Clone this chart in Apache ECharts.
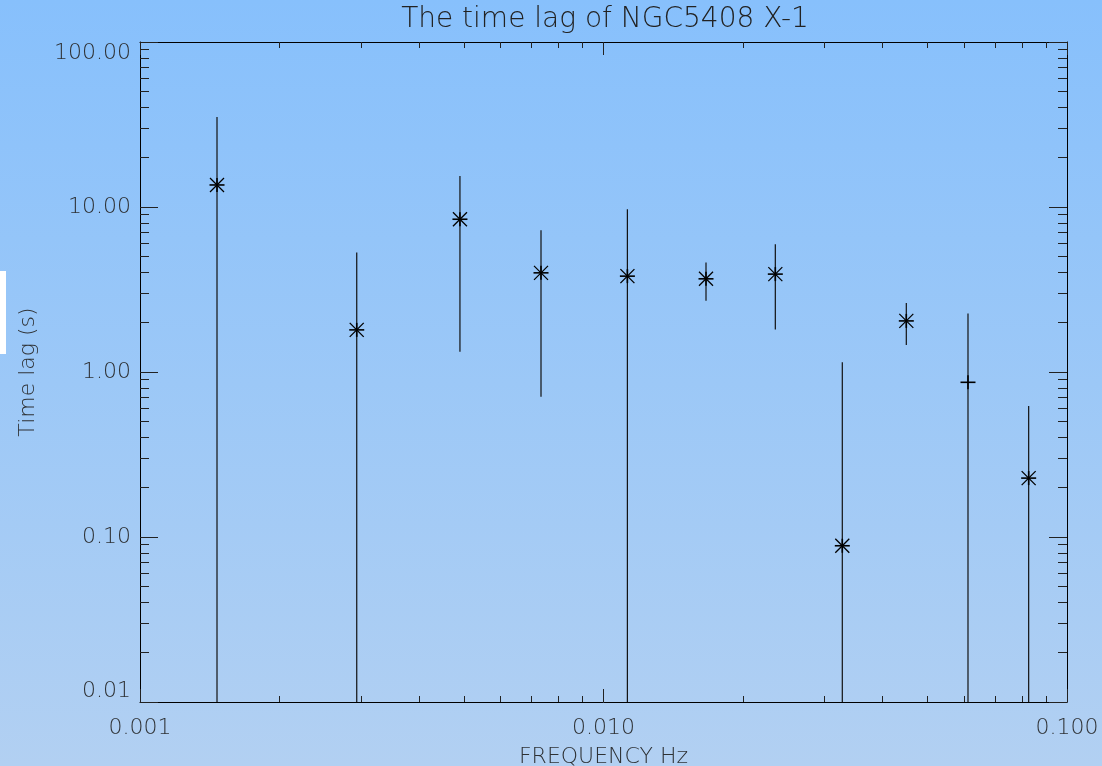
<!DOCTYPE html>
<html>
<head>
<meta charset="utf-8">
<script src="https://cdn.jsdelivr.net/npm/echarts@6/dist/echarts.min.js"></script>
<style>
html,body{margin:0;padding:0;overflow:hidden;}
#chart{width:1102px;height:766px;background:linear-gradient(to bottom,#87c0fc 0%,#9cc8f7 50%,#b2d0f2 100%);}
</style>
</head>
<body>
<div id="chart"></div>
<script>
// ---- data ----
var frequency = [0.001466, 0.002935, 0.004901, 0.007331, 0.01126, 0.01664, 0.02348, 0.03275, 0.04501, 0.06115, 0.08266];
var timeLag   = [13.6, 1.80, 8.43, 3.99, 3.81, 3.67, 3.92, 0.0885, 2.04, 0.866, 0.2275];
var errHigh   = [35.1, 5.30, 15.4, 7.23, 9.69, 4.61, 5.95, 1.145, 2.62, 2.26, 0.623];
// null = lower error extends below the plotted range
var errLow    = [null, null, 1.327, 0.709, null, 2.70, 1.81, null, 1.457, null, null];
var markers   = ['star','star','star','star','star','star','star','star','star','plus','star'];

var xMajorTicks = [0.001, 0.01, 0.1];
var xMinorTicks = [0.002,0.003,0.004,0.005,0.006,0.007,0.008,0.009,0.02,0.03,0.04,0.05,0.06,0.07,0.08,0.09];
var yMajorTicks = [0.01, 0.1, 1, 10, 100];
var yMinorTicks = [0.02,0.03,0.04,0.05,0.06,0.07,0.08,0.09,0.2,0.3,0.4,0.5,0.6,0.7,0.8,0.9,2,3,4,5,6,7,8,9,20,30,40,50,60,70,80,90];

var X_MIN = 0.001, X_MAX = 0.1, Y_MIN = 0.01, Y_MAX = 100;
var FONT = "'DejaVu Sans', sans-serif";
var TXT = '#2e3134';

var points = frequency.map(function(f,i){ return [f, timeLag[i], errLow[i] == null ? Y_MIN : errLow[i], errHigh[i], i]; });

function xAxisDef(pos, major, showLabel, showLine) {
  return {
    type:'log', logBase:10, min:X_MIN, max:X_MAX, position:pos, gridIndex:0,
    axisLine:{show:showLine, onZero:false, lineStyle:{color:'#000', width:1}},
    axisTick:{show:true, inside:true, length: major?13:6, customValues: major?xMajorTicks:xMinorTicks, lineStyle:{color:'#222', width:1}},
    axisLabel:{show:showLabel, customValues:xMajorTicks, margin:15, color:TXT, fontFamily:FONT, fontWeight:200, fontSize:22,
      formatter:function(v){ return (+v).toFixed(3); }},
    splitLine:{show:false}, minorTick:{show:false}
  };
}
function yAxisDef(pos, major, showLabel, showLine) {
  return {
    type:'log', logBase:10, min:Y_MIN, max:Y_MAX, position:pos, gridIndex:0,
    axisLine:{show:showLine, onZero:false, lineStyle:{color:'#000', width:1}},
    axisTick:{show:true, inside:true, length: major?18:9, customValues: major?yMajorTicks:yMinorTicks, lineStyle:{color:'#222', width:1}},
    axisLabel:{show:showLabel, customValues:yMajorTicks, margin:9, color:TXT, fontFamily:FONT, fontWeight:200, fontSize:22,
      verticalAlignMaxLabel:'top', verticalAlignMinLabel:'bottom',
      formatter:function(v){ return (+v).toFixed(2); }},
    splitLine:{show:false}, minorTick:{show:false}
  };
}

var xAxes = [xAxisDef('bottom', true, true, true), xAxisDef('bottom', false, false, false), xAxisDef('top', true, false, true), xAxisDef('top', false, false, false)];
xAxes[0].name = 'FREQUENCY Hz';
xAxes[0].nameLocation = 'middle';
xAxes[0].nameGap = 44;
xAxes[0].nameTextStyle = {color:TXT, fontFamily:FONT, fontWeight:200, fontSize:22};
var yAxes = [yAxisDef('left', true, true, true), yAxisDef('left', false, false, false), yAxisDef('right', true, false, true), yAxisDef('right', false, false, false)];
yAxes[0].name = 'Time lag (s)';
yAxes[0].nameLocation = 'middle';
yAxes[0].nameRotate = 90;
yAxes[0].nameGap = 101;
yAxes[0].nameTextStyle = {color:TXT, fontFamily:FONT, fontWeight:200, fontSize:22};

var chart = echarts.init(document.getElementById('chart'), null, {renderer:'canvas', width:1102, height:766});
chart.setOption({
  backgroundColor:'transparent',
  animation:false,
  title:{text:'The time lag of NGC5408 X-1', left:600, top:1, textAlign:'center',
    textStyle:{color:'#222', fontFamily:FONT, fontWeight:200, fontSize:28}},
  grid:{left:140, top:42, width:927, height:660, containLabel:false, outerBoundsMode:'none'},
  xAxis:xAxes,
  yAxis:yAxes,
  graphic:[{type:'rect', left:0, top:271, shape:{width:6, height:83}, style:{fill:'#ffffff'}, z:100}],
  series:[{
    type:'custom',
    xAxisIndex:0, yAxisIndex:0,
    data:points,
    clip:true,
    renderItem:function(params, api){
      var x = api.value(0), y = api.value(1), lo = api.value(2), hi = api.value(3), idx = api.value(4);
      var c = api.coord([x, y]);
      var cl = api.coord([x, lo]);
      var ch = api.coord([x, hi]);
      var s = 7;
      var lineStyle = {stroke:'#111', lineWidth:1.2};
      var mStyle = {stroke:'#000', lineWidth:1.6};
      var children = [
        {type:'line', shape:{x1:c[0], y1:cl[1], x2:c[0], y2:ch[1]}, style:lineStyle},
        {type:'line', shape:{x1:c[0]-s-0.5, y1:c[1], x2:c[0]+s+0.5, y2:c[1]}, style:mStyle},
        {type:'line', shape:{x1:c[0], y1:c[1]-s, x2:c[0], y2:c[1]+s}, style:mStyle}
      ];
      if (markers[idx] === 'star') {
        children.push({type:'line', shape:{x1:c[0]-s, y1:c[1]-s, x2:c[0]+s, y2:c[1]+s}, style:{stroke:'#000', lineWidth:1.3}});
        children.push({type:'line', shape:{x1:c[0]-s, y1:c[1]+s, x2:c[0]+s, y2:c[1]-s}, style:{stroke:'#000', lineWidth:1.3}});
      }
      return {type:'group', children:children};
    }
  }]
});
</script>
</body>
</html>
